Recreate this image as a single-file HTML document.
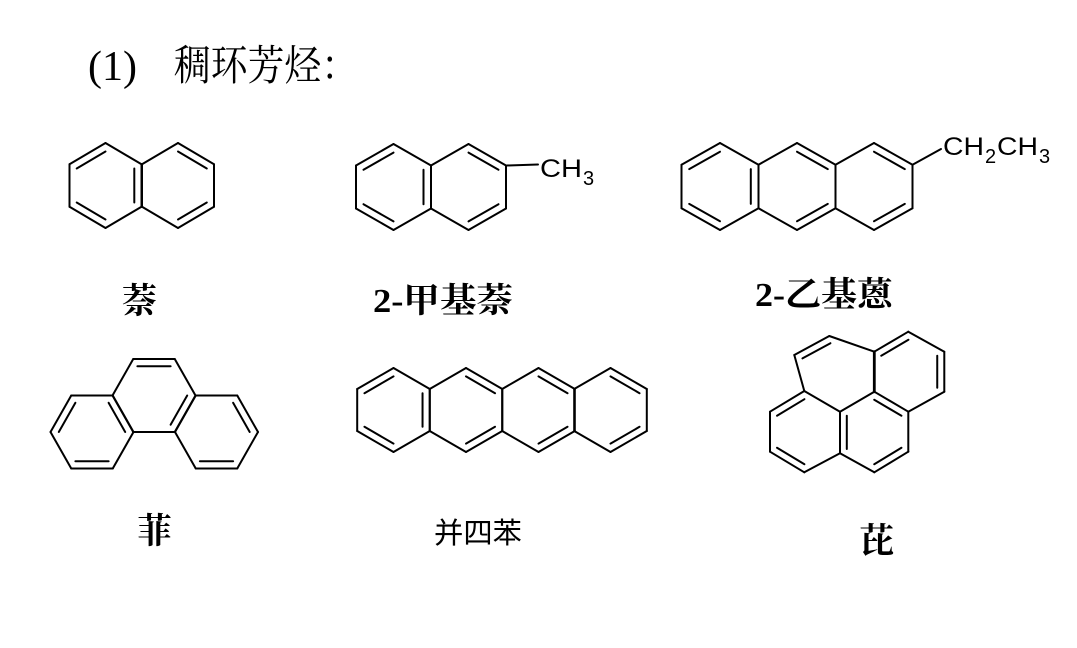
<!DOCTYPE html>
<html><head><meta charset="utf-8"><style>
html,body{margin:0;padding:0;background:#fff;}
svg{display:block;}
.lab{font-family:"Liberation Serif","Noto Serif CJK SC",serif;font-weight:bold;fill:#000;}
.sans{font-family:"Liberation Sans",sans-serif;fill:#000;}
</style></head><body>
<svg id="s" width="1077" height="648" viewBox="0 0 1077 648" xmlns="http://www.w3.org/2000/svg">
<rect width="1077" height="648" fill="#fff"/>
<text x="88" y="80" font-family="Liberation Serif, 'Noto Serif CJK SC', serif" font-size="42">(1)</text>
<text x="174" y="80" font-family="'Noto Serif CJK SC', serif" font-size="42" textLength="184" lengthAdjust="spacingAndGlyphs">稠环芳烃：</text>

<text x="540" y="177" class="sans" font-size="25" textLength="42" lengthAdjust="spacingAndGlyphs">CH</text>
<text x="583" y="185" class="sans" font-size="20">3</text>
<text x="943" y="155" class="sans" font-size="25" textLength="41" lengthAdjust="spacingAndGlyphs">CH</text>
<text x="985" y="163" class="sans" font-size="20">2</text>
<text x="997" y="155" class="sans" font-size="25" textLength="41" lengthAdjust="spacingAndGlyphs">CH</text>
<text x="1039" y="163" class="sans" font-size="20">3</text>

<text x="122" y="313" class="lab" font-size="35">萘</text>
<text x="373" y="312" class="lab" font-size="34" textLength="140" lengthAdjust="spacingAndGlyphs">2-甲基萘</text>
<text x="755" y="306" class="lab" font-size="34" textLength="138" lengthAdjust="spacingAndGlyphs">2-乙基蒽</text>
<text x="137" y="543" class="lab" font-size="35">菲</text>
<text x="434" y="543" font-family="'Noto Sans CJK SC', sans-serif" font-size="29" textLength="88" lengthAdjust="spacingAndGlyphs">并四苯</text>
<text x="859" y="553" class="lab" font-size="35">芘</text>
<g id="g" stroke="#000" stroke-width="2" fill="none" stroke-linecap="round"></g>
</svg>
<script>
var g=document.getElementById('g'),NS="http://www.w3.org/2000/svg";
function L(a,b,w){var l=document.createElementNS(NS,'line');l.setAttribute('x1',a[0]);l.setAttribute('y1',a[1]);l.setAttribute('x2',b[0]);l.setAttribute('y2',b[1]);if(w)l.setAttribute('stroke-width',w);g.appendChild(l);}
function inner(p,q,c){var t=0.2;L([p[0]+(c[0]-p[0])*t,p[1]+(c[1]-p[1])*t],[q[0]+(c[0]-q[0])*t,q[1]+(c[1]-q[1])*t]);}
function pointy(cx,cy,w,h){return [[cx,cy-h],[cx+w,cy-h/2],[cx+w,cy+h/2],[cx,cy+h],[cx-w,cy+h/2],[cx-w,cy-h/2]];}
function flat(cx,cy,a,v){return [[cx-a/2,cy-v],[cx+a/2,cy-v],[cx+a,cy],[cx+a/2,cy+v],[cx-a/2,cy+v],[cx-a,cy]];}
function ring(P,c,dbl){for(var i=0;i<6;i++)L(P[i],P[(i+1)%6]);dbl.forEach(function(e){inner(P[e[0]],P[e[1]],c);});}
function chain(cs,cy,w,h){cs.forEach(function(cx,i){var d=i==0?[[5,0],[3,4],[1,2]]:[[0,1],[2,3]];ring(pointy(cx,cy,w,h),[cx,cy],d);});}
chain([105.5,178],185.5,36,42.5);
chain([393.5,468.5],187,37.5,43);
L([507,165.5],[538,164.5]);
chain([720,797,874],186.5,38.5,43.5);
L([912.5,164.7],[941,149]);
chain([393.5,466,538.5,610.5],410,36.3,42);
var a=41.5,v=36.5;
ring(flat(92,432,a,v),[92,432],[[5,0],[3,4],[1,2]]);
ring(flat(154,395.5,a,v),[154,395.5],[[0,1],[2,3]]);
ring(flat(216.5,432,a,v),[216.5,432],[[1,2],[3,4]]);
var A=[794.3,355],B=[829.3,336],C=[874.3,351.7],D=[908.3,331.7],E=[944.3,351.7],F=[944.3,391.7],G=[908.3,411.7],H=[874.3,391.7],I=[804.3,391],J=[840,411.7],K=[840,453.3],Lp=[874.3,472.3],M=[908.3,451.7],N=[770,411.7],O=[770,451.7],P=[804.3,472.3];
[[A,B],[B,C],[A,I],[C,D],[D,E],[E,F],[F,G],[G,H],[H,J],[I,J],[J,K],[K,Lp],[Lp,M],[M,G],[I,N],[N,O],[O,P],[P,K]].forEach(function(e){L(e[0],e[1]);});
L(C,H,2.8);
var cUR=[909,372],cC=[874,432],cL=[805,432];
inner(A,B,[835,372]);inner(C,D,cUR);inner(E,F,cUR);inner(G,H,cC);inner(J,K,cC);inner(Lp,M,cC);inner(N,I,cL);inner(O,P,cL);
</script>
</body></html>
